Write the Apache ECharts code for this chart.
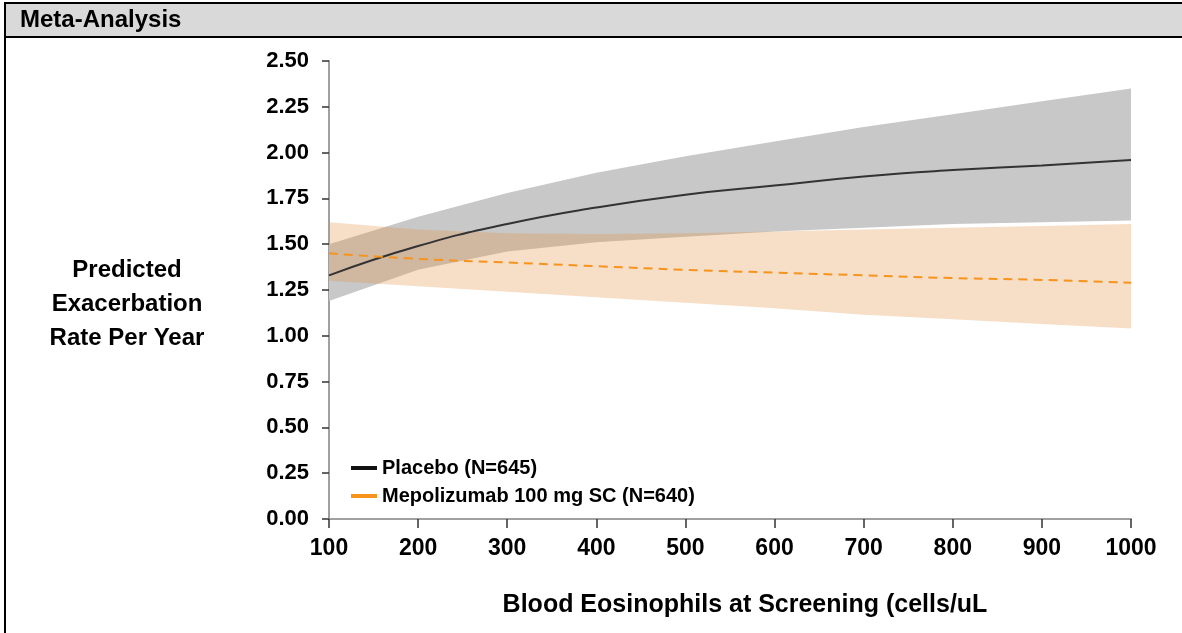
<!DOCTYPE html>
<html>
<head>
<meta charset="utf-8">
<script src="https://cdn.jsdelivr.net/npm/echarts@6/dist/echarts.min.js"></script>
<style>
  html, body { margin: 0; padding: 0; background: #fff; }
  #chart { width: 1182px; height: 633px; }
</style>
</head>
<body>
<div id="chart"></div>
<script>
// Blood eosinophil count at screening (cells/uL)
const eosinophils = [100, 200, 300, 400, 500, 600, 700, 800, 900, 1000];

// Placebo: predicted rate with 95% confidence band
const placeboRate  = [1.33, 1.49, 1.61, 1.70, 1.77, 1.82, 1.87, 1.905, 1.93, 1.96];
const placeboLower = [1.19, 1.36, 1.46, 1.51, 1.54, 1.57, 1.59, 1.61, 1.62, 1.63];
const placeboUpper = [1.50, 1.65, 1.78, 1.89, 1.98, 2.06, 2.14, 2.21, 2.28, 2.35];

// Mepolizumab 100 mg SC: predicted rate with 95% confidence band
const mepoRate  = [1.45, 1.42, 1.40, 1.38, 1.36, 1.345, 1.33, 1.315, 1.305, 1.29];
const mepoLower = [1.30, 1.27, 1.24, 1.21, 1.18, 1.15, 1.115, 1.09, 1.065, 1.04];
const mepoUpper = [1.62, 1.58, 1.56, 1.555, 1.56, 1.57, 1.58, 1.59, 1.60, 1.61];

const placeboName = 'Placebo (N=645)';
const mepoName = 'Mepolizumab 100 mg SC (N=640)';
const yTitle = 'Predicted\nExacerbation\nRate Per Year';
const xTitle = 'Blood Eosinophils at Screening (cells/uL';

const pairs = (ys) => eosinophils.map((x, i) => [x, ys[i]]);

const FONT = '"Liberation Sans", Arial, sans-serif';

// Confidence band drawn as one polygon: upper edge left→right, lower edge right→left
function bandSeries(name, lower, upper, fill) {
  return {
    name: name,
    type: 'custom',
    silent: true,
    data: [[eosinophils[0], lower[0]]],
    encode: { x: 0, y: 1 },
    renderItem: function (params, api) {
      const pts = [];
      for (let i = 0; i < eosinophils.length; i++) {
        pts.push(api.coord([eosinophils[i], upper[i]]));
      }
      for (let i = eosinophils.length - 1; i >= 0; i--) {
        pts.push(api.coord([eosinophils[i], lower[i]]));
      }
      return {
        type: 'polygon',
        shape: { points: pts },
        style: { fill: fill, stroke: 'none' }
      };
    },
    z: 1
  };
}

const chart = echarts.init(document.getElementById('chart'), null, { renderer: 'canvas' });

chart.setOption({
  animation: false,
  backgroundColor: '#ffffff',
  textStyle: { fontFamily: FONT },
  graphic: [
    {
      type: 'rect',
      shape: { x: 5, y: 3, width: 1190, height: 34 },
      style: { fill: '#d9d9d9', stroke: '#000', lineWidth: 2 },
      z: 0
    },
    {
      type: 'line',
      shape: { x1: 5, y1: 37, x2: 5, y2: 640 },
      style: { stroke: '#000', lineWidth: 2 },
      z: 0
    },
    {
      type: 'text',
      left: 20,
      top: 8,
      style: {
        text: 'Meta-Analysis',
        fill: '#000',
        font: 'bold 24px ' + FONT
      }
    },
    {
      // y-axis title, three centred lines
      type: 'text',
      x: 127,
      y: 304,
      style: {
        text: yTitle,
        fill: '#000',
        font: 'bold 24px ' + FONT,
        align: 'center',
        verticalAlign: 'middle',
        lineHeight: 34
      }
    }
  ],
  grid: { left: 329, right: 51, top: 61, bottom: 114, containLabel: false },
  legend: {
    data: [placeboName, mepoName],
    orient: 'vertical',
    left: 346,
    top: 453,
    itemWidth: 26,
    itemHeight: 4,
    itemGap: 8,
    icon: 'rect',
    textStyle: { fontFamily: FONT, fontWeight: 'bold', fontSize: 20, color: '#000' }
  },
  xAxis: {
    type: 'value',
    min: 100,
    max: 1000,
    interval: 100,
    name: xTitle,
    nameLocation: 'middle',
    nameGap: 86,
    nameTextStyle: {
      fontFamily: FONT, fontWeight: 'bold', fontSize: 25, color: '#000',
      verticalAlign: 'middle', padding: [0, 0, 0, 30]
    },
    axisLine: { show: true, lineStyle: { color: '#a0a0a0', width: 2 } },
    axisTick: { show: true, length: 9, lineStyle: { color: '#333', width: 1.5 } },
    axisLabel: {
      fontFamily: FONT, fontWeight: 'bold', fontSize: 23, color: '#000', margin: 18,
      formatter: (v) => String(v)
    },
    splitLine: { show: false }
  },
  yAxis: {
    type: 'value',
    min: 0,
    max: 2.5,
    interval: 0.25,
    axisLine: { show: true, lineStyle: { color: '#a0a0a0', width: 2 } },
    axisTick: { show: true, length: 7, lineStyle: { color: '#333', width: 1.5 } },
    axisLabel: {
      fontFamily: FONT, fontWeight: 'bold', fontSize: 22, color: '#000', margin: 20,
      formatter: (v) => v.toFixed(2)
    },
    splitLine: { show: false }
  },
  series: [
    bandSeries('placeboBand', placeboLower, placeboUpper, '#c8c8c8'),
    bandSeries('mepoBand', mepoLower, mepoUpper, 'rgba(228,145,68,0.3)'),
    {
      name: placeboName,
      type: 'line',
      data: pairs(placeboRate),
      smooth: true,
      symbol: 'none',
      color: '#111',
      lineStyle: { color: '#333', width: 2 },
      z: 5
    },
    {
      name: mepoName,
      type: 'line',
      data: pairs(mepoRate),
      smooth: true,
      symbol: 'none',
      color: '#f7941d',
      lineStyle: { color: '#f7941d', width: 2, type: [9, 6] },
      z: 5
    }
  ]
});
</script>
</body>
</html>
